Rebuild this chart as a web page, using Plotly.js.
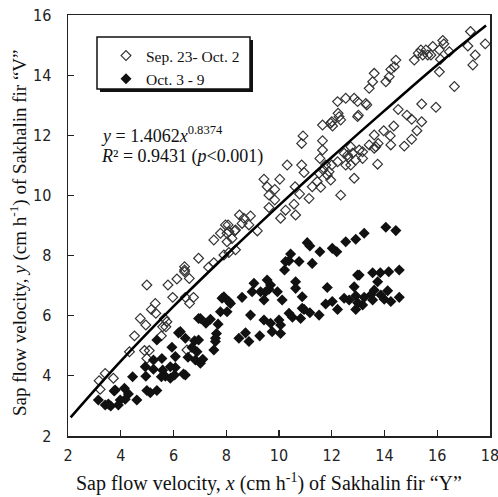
<!DOCTYPE html>
<html>
<head>
<meta charset="utf-8">
<script src="https://cdn.plot.ly/plotly-3.0.1.min.js"></script>
<style>html,body{margin:0;padding:0;background:#fff;}#chart{width:498px;height:497px;}</style>
</head>
<body>
<div id="chart"></div>
<script>
// Sep. 23 - Oct. 2 (open diamonds)
const openX = [4.99,5.79,6.13,6.42,6.60,5.97,6.45,6.61,6.76,5.31,5.16,5.33,4.74,4.95,5.66,5.75,5.59,5.71,4.52,5.54,4.33,4.90,5.08,4.99,6.51,3.41,3.18,3.72,3.22,
  6.42,6.42,6.95,7.33,7.53,7.91,8.10,7.53,7.78,8.03,8.03,8.32,8.07,8.50,8.60,8.35,
  8.35,8.67,8.86,8.92,9.18,9.43,9.55,9.62,9.84,9.84,9.62,10.03,10.06,10.31,10.25,10.57,10.61,10.63,10.86,10.95,10.78,11.14,11.26,11.45,11.58,11.52,11.65,11.55,11.77,11.67,11.83,11.96,11.90,12.00,12.22,12.34,12.47,12.53,12.63,12.79,12.85,12.72,13.04,13.17,13.42,13.61,
  10.91,10.86,11.65,11.65,12.00,12.03,12.28,12.34,12.22,12.98,13.29,13.01,7.97,8.10,8.22,
  17.26,17.82,17.16,17.44,17.35,16.65,16.46,16.21,16.25,16.08,15.83,15.57,15.64,15.38,15.28,15.13,15.76,15.45,16.12,16.08,14.43,14.37,14.24,14.18,14.05,13.61,13.55,13.42,12.53,12.85,13.33,12.98,
  14.52,14.85,15.03,15.41,15.95,14.35,13.97,13.61,14.22,13.76,13.67,14.24,14.75,15.03,15.23,15.41,12.72,12.60,12.91,13.17,13.74,12.24,11.96];
const openY = [7.02,7.02,7.22,7.46,7.24,6.61,6.61,6.41,6.61,6.41,6.21,6.08,5.91,5.69,5.91,5.80,5.63,5.63,5.33,5.33,4.80,4.84,4.84,4.58,4.86,4.08,3.84,3.92,3.55,
  7.63,7.52,7.91,7.61,7.76,8.02,8.10,8.52,8.74,8.74,8.46,8.82,9.02,9.35,9.07,8.19,
  8.85,9.24,9.02,9.32,8.82,10.54,10.29,10.01,10.20,9.85,9.60,10.54,9.24,11.01,9.51,9.71,10.29,9.35,11.01,10.76,10.05,9.90,10.29,10.46,10.27,10.74,11.51,11.23,11.01,10.85,10.68,10.51,10.79,11.01,11.12,10.01,11.40,11.01,11.27,11.40,10.57,11.01,11.51,11.23,11.68,11.57,
  11.98,11.73,11.82,12.34,12.45,12.31,12.62,12.51,13.12,13.12,13.06,12.67,9.02,8.80,8.57,
  15.45,15.04,14.97,14.67,14.34,13.62,14.78,15.15,15.04,14.84,14.95,14.84,14.67,14.84,14.73,14.50,14.67,14.67,14.53,14.11,14.50,14.28,14.19,13.95,13.78,14.06,13.78,13.56,13.23,13.23,13.01,12.62,
  12.86,12.67,12.53,13.04,12.93,12.31,12.15,12.01,11.98,11.73,11.62,11.68,11.64,11.87,12.15,12.45,11.62,11.34,11.18,11.45,11.04,12.73,12.40];

// Oct. 3 - 9 (filled diamonds)
const filledX = [7.84,7.78,6.95,7.23,7.40,7.69,6.19,6.45,6.80,6.95,5.37,7.59,7.53,5.94,6.70,6.07,6.55,6.83,7.11,5.59,5.69,5.88,6.04,6.07,6.38,5.54,4.93,5.24,4.95,4.45,3.79,4.14,4.29,4.99,5.12,5.37,4.61,3.15,3.41,3.53,3.98,3.91,
  3.62,3.75,4.17,5.88,6.45,6.89,7.02,6.26,7.02,7.63,5.56,5.24,
  11.07,11.17,10.44,10.38,10.25,10.76,10.21,11.26,11.55,12.02,12.19,9.55,9.68,9.62,9.49,9.05,9.94,8.98,9.30,10.63,10.63,9.43,10.12,10.88,11.83,7.91,8.10,8.60,8.03,8.92,10.38,10.51,10.82,10.95,11.17,11.52,9.43,9.68,10.00,10.06,9.74,10.06,9.27,8.48,8.73,8.86,7.59,11.77,12.02,12.22,12.98,12.85,8.16,10.88,
  12.53,12.91,13.23,14.05,14.43,13.04,13.55,13.84,14.16,14.56,13.74,13.61,14.12,12.47,12.66,12.91,12.98,13.23,13.17,13.48,13.55,13.86,13.99,14.24,14.56,12.91];
const filledY = [6.58,6.13,5.91,5.75,5.88,5.72,5.43,5.25,5.17,5.19,5.19,5.14,4.86,4.95,4.94,4.64,4.62,4.53,4.55,4.19,3.99,3.92,4.03,4.28,4.06,3.97,4.30,4.22,3.99,3.97,3.53,3.59,3.40,3.51,3.44,3.51,3.20,3.20,3.03,3.06,3.20,3.03,
  3.00,3.50,3.22,4.30,4.03,4.80,4.42,5.47,5.91,5.41,4.58,4.53,
  8.43,8.32,8.05,7.83,7.80,7.80,7.52,7.74,8.13,8.24,8.13,7.19,7.02,6.88,6.80,7.08,6.80,6.80,6.80,7.13,6.91,6.52,6.52,6.63,6.94,6.63,6.47,6.61,6.13,6.02,6.08,5.95,5.91,6.21,6.10,6.02,5.86,5.75,5.86,5.69,5.47,5.41,5.33,5.25,5.43,5.14,5.25,6.39,6.47,6.21,7.35,6.96,6.41,6.25,
  8.46,8.54,8.74,8.94,8.83,7.35,7.43,7.43,7.46,7.52,7.13,6.85,6.83,6.58,6.52,6.66,6.43,6.61,6.36,6.69,6.52,6.69,6.55,6.47,6.61,6.21];

// Fitted curve y = 1.4062 x^0.8374
const fitX = [2.1, 4, 6, 8, 10, 12, 14, 16, 17.85];
const fitY = [2.62, 4.49, 6.31, 8.02, 9.67, 11.27, 12.82, 14.34, 15.65];

const seriesNames = ['Sep. 23- Oct. 2', 'Oct. 3 - 9'];
const xTickVals = [2, 4, 6, 8, 10, 12, 14, 16, 18];
const yTickVals = [2, 4, 6, 8, 10, 12, 14, 16];

const W = 498, H = 497;
const mL = 68, mR = 8, mT = 15, mB = 61;
const pw = W - mL - mR, ph = H - mT - mB;
const px = v => (v - mL) / pw;
const py = v => 1 - (v - mT) / ph;

const serif = 'Liberation Serif, Times New Roman, serif';
const narrow = 'Liberation Sans Narrow, Arial Narrow, DejaVu Sans Condensed, sans-serif';

const traces = [
  {x: openX, y: openY, type: 'scatter', mode: 'markers', name: seriesNames[0],
   marker: {symbol: 'diamond-open', size: 7.5, color: '#333', line: {width: 1.2, color: '#333'}}},
  {x: filledX, y: filledY, type: 'scatter', mode: 'markers', name: seriesNames[1],
   marker: {symbol: 'diamond', size: 8.5, color: '#111'}},
  {x: fitX, y: fitY, type: 'scatter', mode: 'lines', showlegend: false,
   line: {color: '#000', width: 2.6, shape: 'spline'}, hoverinfo: 'skip'}
];

const axisCommon = {
  showgrid: false, zeroline: false, showline: true, linecolor: '#222', linewidth: 1.5,
  mirror: true, ticks: 'inside', ticklen: 6, tickwidth: 1.2, tickcolor: '#222',
  ticklabeloverflow: 'allow',
  tickfont: {family: narrow, size: 16, color: '#222'}
};

const layout = {
  width: W, height: H,
  margin: {l: mL, r: mR, t: mT, b: mB},
  paper_bgcolor: '#fff', plot_bgcolor: '#fff',
  font: {family: serif, color: '#111'},
  xaxis: Object.assign({}, axisCommon, {
    range: [2, 18], tickvals: xTickVals, ticklabelstandoff: 4,
    title: {text: '', font: {family: serif, size: 20, color: '#111'}}
  }),
  yaxis: Object.assign({}, axisCommon, {
    range: [2, 16], tickvals: yTickVals, ticklabelstandoff: 12,
    title: {text: '', font: {family: serif, size: 19, color: '#111'}}
  }),
  showlegend: true,
  legend: {
    x: px(106), y: py(39), xanchor: 'left', yanchor: 'top',
    bgcolor: 'rgba(0,0,0,0)', borderwidth: 0,
    font: {family: serif, size: 15.5, color: '#111'},
    tracegroupgap: 0, itemwidth: 30
  },
  shapes: [
    {type: 'rect', xref: 'paper', yref: 'paper', x0: px(100), x1: px(253), y0: py(92), y1: py(40),
     fillcolor: '#111', line: {width: 0}, layer: 'above'},
    {type: 'rect', xref: 'paper', yref: 'paper', x0: px(97), x1: px(250), y0: py(89), y1: py(37),
     fillcolor: '#fff', line: {color: '#111', width: 1.5}, layer: 'above'}
  ],
  annotations: [
    {xref: 'paper', yref: 'paper', x: px(99), y: py(134), xanchor: 'left', yanchor: 'middle', showarrow: false,
     text: '<i>y</i> = 1.4062<i>x</i><sup>0.8374</sup>', font: {family: serif, size: 18, color: '#111'}},
    {xref: 'paper', yref: 'paper', x: px(99), y: py(156), xanchor: 'left', yanchor: 'middle', showarrow: false,
     text: '<i>R</i>\u00b2 = 0.9431 (<i>p</i><0.001)', font: {family: serif, size: 18, color: '#111'}},
    {xref: 'paper', yref: 'paper', x: px(269), y: py(483), xanchor: 'center', yanchor: 'middle', showarrow: false,
     text: 'Sap flow velocity, <i>x</i> (cm h<sup>-1</sup>) of Sakhalin fir \u201cY\u201d', font: {family: serif, size: 20, color: '#111'}},
    {xref: 'paper', yref: 'paper', x: px(19), y: py(233), xanchor: 'center', yanchor: 'middle', showarrow: false,
     textangle: -90,
     text: 'Sap flow velocity, <i>y</i> (cm h<sup>-1</sup>) of Sakhalin fir \u201cV\u201d', font: {family: serif, size: 19, color: '#111'}}
  ]
};

Plotly.newPlot('chart', traces, layout, {staticPlot: true, displayModeBar: false});
</script>
</body>
</html>
